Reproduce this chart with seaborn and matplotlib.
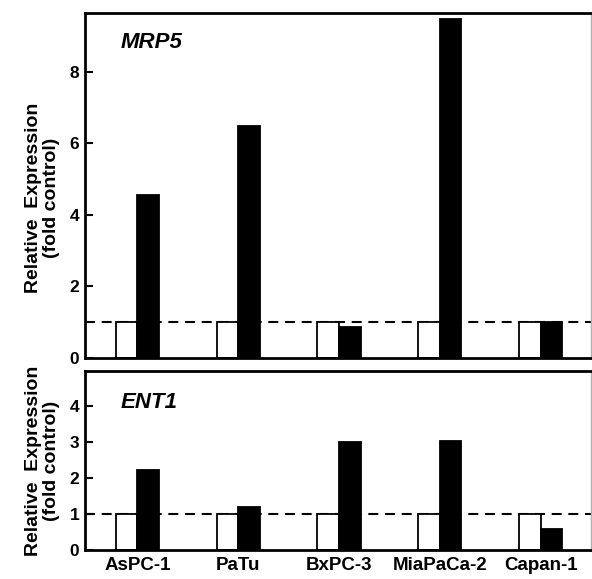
import matplotlib
matplotlib.use("Agg")
import matplotlib.pyplot as plt
import seaborn as sns
import pandas as pd

cells = ["AsPC-1", "PaTu", "BxPC-3", "MiaPaCa-2", "Capan-1"]
conditions = ["control", "treated"]
mrp5_control = [1.0, 1.0, 1.0, 1.0, 1.0]
mrp5_treated = [4.55, 6.5, 0.88, 9.48, 1.02]
ent1_control = [1.0, 1.0, 1.0, 1.0, 1.0]
ent1_treated = [2.22, 1.2, 3.0, 3.03, 0.57]
mrp5_ticks = [0, 2, 4, 6, 8]
ent1_ticks = [0, 1, 2, 3, 4]

sns.set_theme(style="white")
plt.rcParams["font.family"] = ["Liberation Sans", "DejaVu Sans"]
for k in ["text.color", "axes.labelcolor", "xtick.color", "ytick.color"]:
    plt.rcParams[k] = "black"

def make_df(ctrl, trt):
    return pd.DataFrame({
        "cell": cells * 2,
        "condition": [conditions[0]] * len(cells) + [conditions[1]] * len(cells),
        "value": list(ctrl) + list(trt),
    })

W, H = 592, 579
fig = plt.figure(figsize=(W / 100, H / 100), dpi=100)
ax1 = fig.add_axes([85 / W, (H - 358) / H, 506 / W, 345 / H])
ax2 = fig.add_axes([85 / W, (H - 550) / H, 506 / W, 179 / H])

panels = [
    (ax1, make_df(mrp5_control, mrp5_treated), "MRP5", mrp5_ticks, 9.65, 0.945, 0.464),
    (ax2, make_df(ent1_control, ent1_treated), "ENT1", ent1_ticks, 4.97, 0.885, 0.5),
]

for ax, df, title, ticks, ymax, ty, ly in panels:
    sns.barplot(data=df, x="cell", y="value", hue="condition",
                palette=["white", "black"], edgecolor="black", linewidth=1.3,
                width=0.43, legend=False, ax=ax, errorbar=None)
    ax.axhline(1.0, color="black", linestyle=(0, (4.8, 3.2)), linewidth=1.5, zorder=0)
    ax.set_xlim(-0.52, 4.5)
    ax.set_ylim(0, ymax)
    ax.set_yticks(ticks)
    ax.set_yticklabels([str(t) for t in ticks], fontsize=12.5, fontweight="bold")
    ax.tick_params(axis="y", direction="in", length=6, width=1.5, pad=4, left=True, colors="black")
    ax.tick_params(axis="x", length=0)
    ax.set_xlabel("")
    ax.set_ylabel("Relative  Expression\n(fold control)", fontsize=14, fontweight="bold",
                  linespacing=1.1, labelpad=7)
    ax.yaxis.label.set_y(ly)
    for s in ["left", "bottom", "top"]:
        ax.spines[s].set_color("black")
        ax.spines[s].set_linewidth(2)
    ax.spines["right"].set_color("#b0b0b0")
    ax.spines["right"].set_linewidth(1)
    ax.text(0.07, ty, title, transform=ax.transAxes, fontsize=16, fontweight="bold",
            fontstyle="italic", va="top", ha="left")

ax1.set_xticklabels([])
ax2.set_xticklabels(cells, fontsize=13.5, fontweight="bold")
ax2.tick_params(axis="x", pad=5)

fig.savefig("out.png", dpi=100)
